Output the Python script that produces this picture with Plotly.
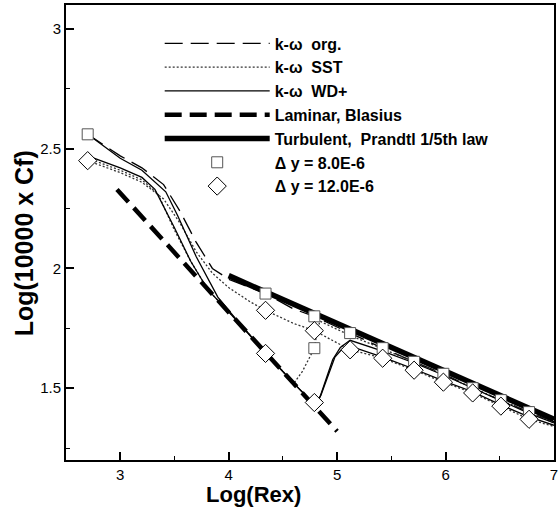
import plotly.graph_objects as go

# ---- data ----
org_x = [2.70, 3.00, 3.20, 3.40, 3.55, 3.70, 3.85, 4.00, 4.20, 4.34, 4.60, 4.79, 5.12, 5.42, 5.71, 5.98, 6.25, 6.51, 6.77, 7.00]
org_y = [2.56, 2.47, 2.42, 2.35, 2.24, 2.11, 2.00, 1.955, 1.92, 1.895, 1.83, 1.80, 1.73, 1.667, 1.61, 1.56, 1.50, 1.45, 1.40, 1.36]

sst1_x = [2.70, 3.00, 3.20, 3.40, 3.55, 3.70, 3.85, 4.00, 4.20, 4.34, 4.60, 4.79, 5.12, 5.42, 5.71, 5.98, 6.25, 6.51, 6.77, 7.00]
sst1_y = [2.45, 2.40, 2.36, 2.29, 2.19, 2.07, 1.98, 1.92, 1.86, 1.825, 1.77, 1.74, 1.66, 1.625, 1.575, 1.525, 1.48, 1.425, 1.37, 1.34]

sst2_x = [2.70, 3.00, 3.20, 3.35, 3.50, 3.65, 3.81, 4.00, 4.34, 4.60, 4.68, 4.75, 4.79, 4.81, 4.84, 5.12, 5.42, 5.71, 5.98, 6.25, 6.51, 6.77, 7.00]
sst2_y = [2.46, 2.41, 2.37, 2.31, 2.16, 2.03, 1.91, 1.82, 1.65, 1.52, 1.57, 1.63, 1.667, 1.72, 1.78, 1.72, 1.665, 1.61, 1.555, 1.50, 1.45, 1.40, 1.355]

wd1_x = [2.70, 3.00, 3.20, 3.42, 3.53, 3.70, 3.90, 4.10, 4.34, 4.60, 4.79, 4.84, 4.90, 4.96, 5.03, 5.12, 5.42, 5.71, 5.98, 6.25, 6.51, 6.77, 7.00]
wd1_y = [2.56, 2.46, 2.41, 2.32, 2.22, 2.05, 1.88, 1.77, 1.65, 1.52, 1.435, 1.46, 1.54, 1.62, 1.67, 1.70, 1.655, 1.605, 1.555, 1.50, 1.445, 1.395, 1.355]

wd2_x = [2.70, 3.00, 3.20, 3.32, 3.50, 3.65, 3.81, 4.10, 4.34, 4.60, 4.79, 4.85, 4.92, 4.98, 5.05, 5.12, 5.42, 5.71, 5.98, 6.25, 6.51, 6.77, 7.00]
wd2_y = [2.47, 2.42, 2.38, 2.33, 2.17, 2.03, 1.91, 1.77, 1.645, 1.52, 1.43, 1.47, 1.56, 1.63, 1.665, 1.675, 1.63, 1.58, 1.53, 1.485, 1.43, 1.38, 1.345]

lam_x = [2.97, 5.00]
lam_y = [2.33, 1.32]

turb_x = [4.00, 7.00]
turb_y = [1.97, 1.37]

sq_x = [2.70, 4.34, 4.79, 4.79, 5.12, 5.42, 5.71, 5.98, 6.25, 6.51, 6.77]
sq_y = [2.56, 1.895, 1.80, 1.667, 1.73, 1.667, 1.61, 1.56, 1.50, 1.45, 1.40]

di_x = [2.70, 4.34, 4.34, 4.79, 4.79, 5.12, 5.42, 5.71, 5.98, 6.25, 6.51, 6.77]
di_y = [2.45, 1.825, 1.645, 1.74, 1.44, 1.66, 1.625, 1.575, 1.525, 1.48, 1.425, 1.37]

x_ticks = [3, 4, 5, 6, 7]
y_ticks = [1.5, 2, 2.5, 3]
y_tick_text = ["1.5", "2", "2.5", "3"]

names = ["k-ω  org.", "k-ω  SST", "k-ω  WD+", "Laminar, Blasius",
         "Turbulent,  Prandtl 1/5th law", "Δ y = 8.0E-6", "Δ y = 12.0E-6"]
x_title = "Log(Rex)"
y_title = "Log(10000 x Cf)"

FONT = "Liberation Sans, Arial, sans-serif"

# ---- figure ----
fig = go.Figure()

fig.add_trace(go.Scatter(x=org_x, y=org_y, mode="lines", name=names[0],
                         line=dict(color="black", width=1.3, dash="18px,8px")))
fig.add_trace(go.Scatter(x=sst1_x, y=sst1_y, mode="lines", name=names[1], legendgroup="sst",
                         line=dict(color="#333", width=1.3, dash="2px,2px")))
fig.add_trace(go.Scatter(x=sst2_x, y=sst2_y, mode="lines", name=names[1], legendgroup="sst",
                         showlegend=False, line=dict(color="#333", width=1.3, dash="2px,2px")))
fig.add_trace(go.Scatter(x=wd1_x, y=wd1_y, mode="lines", name=names[2], legendgroup="wd",
                         line=dict(color="black", width=1.3)))
fig.add_trace(go.Scatter(x=wd2_x, y=wd2_y, mode="lines", name=names[2], legendgroup="wd",
                         showlegend=False, line=dict(color="black", width=1.3)))
fig.add_trace(go.Scatter(x=lam_x, y=lam_y, mode="lines", name=names[3],
                         line=dict(color="black", width=4.5, dash="17px,8px")))
fig.add_trace(go.Scatter(x=turb_x, y=turb_y, mode="lines", name=names[4],
                         line=dict(color="black", width=5.5)))
fig.add_trace(go.Scatter(x=sq_x, y=sq_y, mode="markers", name=names[5],
                         marker=dict(symbol="square", size=11, color="white",
                                     line=dict(color="#555", width=1))))
fig.add_trace(go.Scatter(x=di_x, y=di_y, mode="markers", name=names[6],
                         marker=dict(symbol="diamond", size=14, color="white",
                                     line=dict(color="black", width=1))))

axis_common = dict(showline=True, linecolor="black", linewidth=2, mirror=True,
                   ticks="inside", ticklen=8, tickwidth=2, tickcolor="black",
                   showgrid=False, zeroline=False,
                   tickfont=dict(family=FONT, size=15, color="black"),
                   minor=dict(ticks="inside", ticklen=4, tickwidth=1, tickcolor="black"))

fig.update_xaxes(range=[2.5, 7.0], tickvals=x_ticks, minor_dtick=0.5,
                 ticklabeloverflow="allow", **axis_common)
fig.update_yaxes(range=[1.2, 3.1], tickvals=y_ticks, ticktext=y_tick_text, minor_dtick=0.25,
                 **axis_common)

fig.add_annotation(text="<b>" + x_title + "</b>", xref="paper", yref="paper",
                   x=(255 - 66) / 492, y=-(494 - 460) / 455, xanchor="center", yanchor="middle",
                   showarrow=False, font=dict(family=FONT, size=22, color="black"))
fig.add_annotation(text="<b>" + y_title + "</b>", xref="paper", yref="paper",
                   x=-(66 - 24) / 492, y=1 - (243 - 5) / 455, xanchor="center", yanchor="middle",
                   textangle=-90, showarrow=False, font=dict(family=FONT, size=25, color="black"))

fig.update_layout(
    width=560, height=510,
    margin=dict(l=66, r=2, t=5, b=50),
    paper_bgcolor="white", plot_bgcolor="white",
    showlegend=True,
    legend=dict(x=0.192, y=0.953, xanchor="left", yanchor="top",
                bgcolor="rgba(0,0,0,0)", itemwidth=105, tracegroupgap=0,
                font=dict(family=FONT, size=16, color="black", weight="bold")),
    font=dict(family=FONT, color="black"),
)

fig.write_html("out.html", config={"displayModeBar": False},
               post_script="document.body.style.margin='0';")
